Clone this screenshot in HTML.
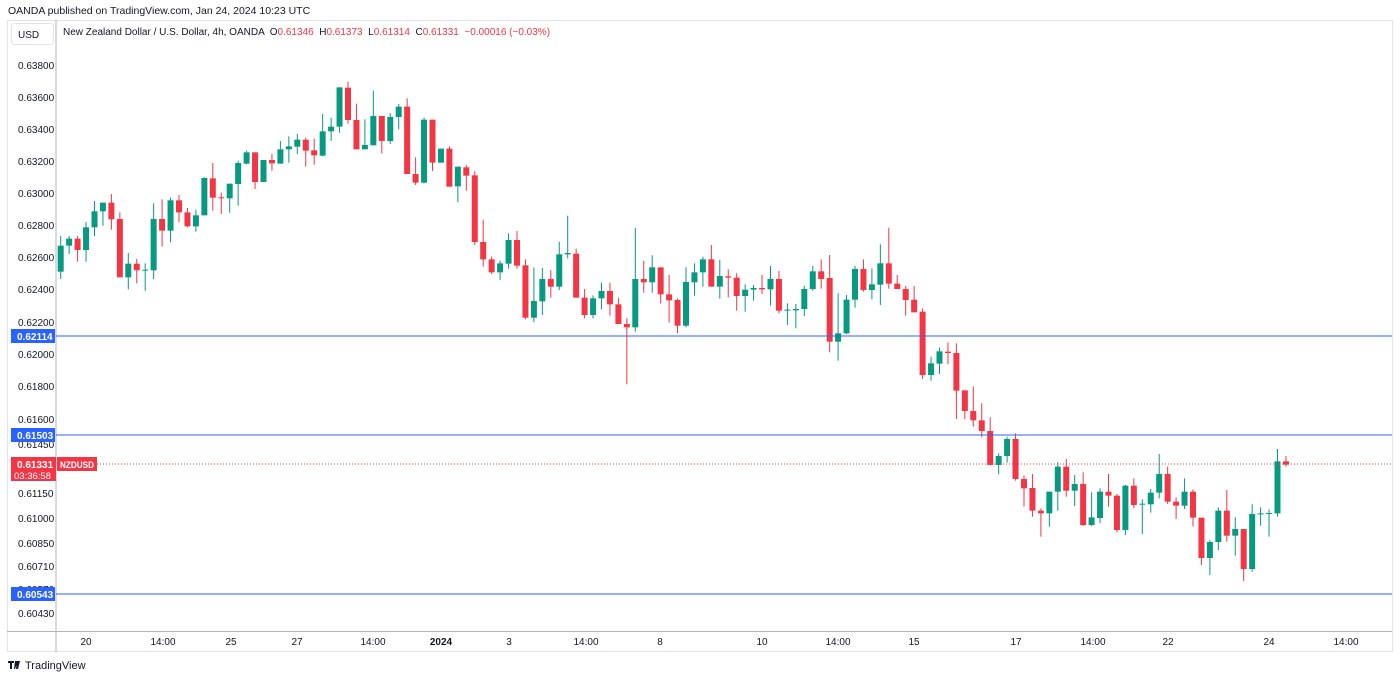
<!DOCTYPE html>
<html><head><meta charset="utf-8"><style>
body{margin:0;width:1400px;height:679px;background:#fff;overflow:hidden;font-family:"Liberation Sans",sans-serif;}
</style></head><body>
<svg id="s" width="1400" height="679" xmlns="http://www.w3.org/2000/svg" font-family="Liberation Sans, sans-serif">
<rect width="1400" height="679" fill="#fff"/>
<text x="8" y="14" font-size="10.5" fill="#131722">OANDA published on TradingView.com, Jan 24, 2024 10:23 UTC</text>
<rect x="7.5" y="20.5" width="1385" height="631" fill="none" stroke="#e0e3eb"/>
<line x1="56" y1="20" x2="56" y2="652" stroke="#b2b5be" stroke-width="1"/>
<line x1="7" y1="631.5" x2="1392" y2="631.5" stroke="#b2b5be"/>
<rect x="11.5" y="23.5" width="42" height="21" rx="3" fill="#fff" stroke="#e0e3eb"/>
<text x="18" y="38" font-size="10" fill="#131722">USD</text>
<text x="63" y="35" font-size="10" fill="#131722" xml:space="preserve">New Zealand Dollar / U.S. Dollar, 4h, OANDA  O<tspan fill="#f23645">0.61346</tspan>  H<tspan fill="#f23645">0.61373</tspan>  L<tspan fill="#f23645">0.61314</tspan>  C<tspan fill="#f23645">0.61331</tspan>  <tspan fill="#f23645">−0.00016 (−0.03%)</tspan></text>
<g id="yt" font-size="10" fill="#131722"></g>
<g id="c"></g>
<g id="tt" font-size="10" fill="#131722" text-anchor="middle"></g>
<line x1="56" y1="336" x2="1392" y2="336" stroke="#2962ff" stroke-width="1"/>
<line x1="56" y1="435" x2="1392" y2="435" stroke="#2962ff" stroke-width="1"/>
<line x1="56" y1="594" x2="1392" y2="594" stroke="#2962ff" stroke-width="1"/>
<line x1="97" y1="464" x2="1392" y2="464" stroke="#f23645" stroke-width="1" stroke-dasharray="1,2"/>
<rect x="11" y="329" width="44" height="14" fill="#2962ff"/><text x="17" y="340" font-size="10" font-weight="bold" fill="#fff">0.62114</text>
<rect x="11" y="428" width="44" height="14" fill="#2962ff"/><text x="17" y="439" font-size="10" font-weight="bold" fill="#fff">0.61503</text>
<rect x="11" y="587" width="44" height="14" fill="#2962ff"/><text x="17" y="598" font-size="10" font-weight="bold" fill="#fff">0.60543</text>
<rect x="11" y="457" width="45" height="24" fill="#f23645"/><text x="17" y="468" font-size="10" font-weight="bold" fill="#fff">0.61331</text><text x="14" y="479" font-size="9.5" fill="#fff">03:36:58</text>
<rect x="57" y="457" width="40" height="14" fill="#f23645"/><text x="60" y="468" font-size="9.5" font-weight="bold" fill="#fff" textLength="34" lengthAdjust="spacingAndGlyphs">NZDUSD</text>
<path d="M8 661h6v2h-2v6h-2v-6h-2z M15 661h3l-3 8h-1z M17 661h3l-2 8h-2z" fill="#131722"/>
<text x="25" y="669" font-size="11" fill="#131722">TradingView</text>
</svg>
<script>
var NS="http://www.w3.org/2000/svg";
function el(p,t,a,txt){var e=document.createElementNS(NS,t);for(var k in a)e.setAttribute(k,a[k]);if(txt!=null)e.textContent=txt;p.appendChild(e);return e;}
var yt=document.getElementById('yt');
[["0.63800",65],["0.63600",97],["0.63400",129],["0.63200",161],["0.63000",193],["0.62800",225],["0.62600",257],["0.62400",289],["0.62200",322],["0.62000",354],["0.61800",386],["0.61600",419],["0.61450",444],["0.61150",493],["0.61000",518],["0.60850",543],["0.60710",566],["0.60570",589],["0.60430",613]].forEach(function(a){el(yt,'text',{x:18,y:a[1]+4},a[0]);});
var tt=document.getElementById('tt');
[["20",86],["14:00",163],["25",231],["27",297],["14:00",373],["2024",441,1],["3",509],["14:00",586],["8",660],["10",762],["14:00",838],["15",914],["17",1016],["14:00",1093],["22",1168],["24",1269],["14:00",1346]].forEach(function(a){var t=el(tt,'text',{x:a[1],y:645},a[0]);if(a[2])t.setAttribute('font-weight','bold');});
var G=[
[70,[["g",527,605,498,627],["g",506,527,498,552],["r",506,540,498,575],["g",472,540,456,575],["g",424,472,393,498],["g",398,424,398,467],["r",398,448,372,479],["r",447,622,427,622],["g",581,622,549,658],["r",581,601,567,640],["g",599,601,580,662],["g",447,601,400,627],["r",447,482,388,530],["g",391,482,383,517],["r",391,427,375,457],["r",427,469,414,472],["g",436,469,419,485],["g",324,436,322,436],["r",325,383,279,422],["r",382,384,368,432],["g",341,385,341,428],["g",279,342,272,407],["g",247,281,242,283],["r",247,336,247,357],["g",270,336,270,336],["r",270,280,252,302],["g",238,281,213,281],["g",229,238,199,278],["g",209,230,192,253],["r",209,242,203,290],["r",241,256,206,284],["g",184,257,132,259],["g",170,184,143,213],["g",52,170,52,188],["r",53,150,35,161],["r",150,238,101,238],["g",225,238,148,238],
["g",138,226,62,226],["r",138,213,138,250],["g",141,213,130,222],["g",110,141,102,178],["r",110,312,85,312],["r",312,338,262,345],["g",149,338,143,340],["r",149,278,149,303],["g",236,278,236,278],["r",236,350,229,350],["g",290,349,290,397],["r",292,317,285,362],["r",316,516,303,525],["r",516,568,449,590],["r",568,607,560,612],["g",580,607,572,630],["g",510,581,490,596],["r",510,587,483,596],["r",586,743,568,748],["g",693,743,592,757],["g",627,694,594,735],["r",627,650,600,683],["g",553,650,515,660],["g",549,553,437,565],["r",551,683,536,683],["r",683,735,657,745],["g",685,735,676,745],["g",663,685,638,718],["r",663,703,638,737],["r",703,762,683,762],["r",762,772,745,943],["g",627,772,474,785],["r",627,637,572,668],["g",592,637,556,668],["r",592,673,592,700],["r",673,691,615,758],["r",690,767,685,790],["g",636,767,592,772]]],
[220,[["g",157,187,130,227],["g",118,157,110,200],["r",118,200,75,200],["g",168,200,120,236],["r",169,173,148,232],["r",173,228,160,272],["g",209,228,193,275],["g",204,209,195,242],["r",204,208,165,222],["g",177,208,138,257],["r",177,272,153,280],["g",269,272,250,315],["g",267,271,252,325],["g",207,267,197,288],["g",154,207,138,212],["r",154,177,118,206],["r",174,365,105,397],["g",340,365,220,422],["g",239,340,225,342],["g",147,239,138,263],["r",147,210,118,215],["g",193,210,145,238],["g",130,194,73,255],["r",130,191,23,206],["r",191,207,165,207],["r",207,240,198,287],["r",239,277,198,277],["r",275,465,265,477],["g",430,465,410,482],["g",394,431,383,462],["r",395,399,367,433],["r",399,512,370,597],["r",511,573,511,597],["r",573,601,500,620],["r",601,633,550,652],["r",633,735,592,735],["g",708,735,700,763]]],
[420,[["g",57,108,50,128],["r",57,177,40,182],["r",177,205,166,260],["r",204,272,162,290],["r",272,280,265,350],["g",215,280,215,320],["g",140,215,127,272],["r",140,212,117,230],["g",192,212,165,258],["r",192,315,157,318],["g",292,315,217,318],["g",215,294,205,310],["r",215,227,162,260],["r",227,330,222,337],["g",197,330,195,345],["r",197,255,175,265],["g",251,254,238,342],["g",218,253,207,278],["g",162,218,102,235],["r",162,245,140,252],["r",245,257,232,297],["g",215,257,175,267],["r",215,293,208,320],["r",293,414,293,435],["g",366,414,360,465],["g",272,366,262,390],["r",272,347,210,365],["g",327,347,292,407],["r",327,447,327,483],["g",282,447,253,455],["g",280,283,262,317],["g",279,282,268,350],["g",124,280,87,290],["r",124,134,108,140]]]];
var c=document.getElementById('c'),i=0;
G.forEach(function(g){var o=g[0];g[1].forEach(function(d){var x=60.7+i*8.45;i++;var col=d[0]=="g"?"#089981":"#f23645";
var bt=d[1]/3+o,bb=d[2]/3+o,ht=d[3]/3+o,hb=d[4]/3+o;
el(c,'line',{x1:x,x2:x,y1:ht,y2:hb,stroke:col,'stroke-width':1});
el(c,'rect',{x:x-3,y:bt,width:6,height:Math.max(1,bb-bt),fill:col});});});
</script>
</body></html>
